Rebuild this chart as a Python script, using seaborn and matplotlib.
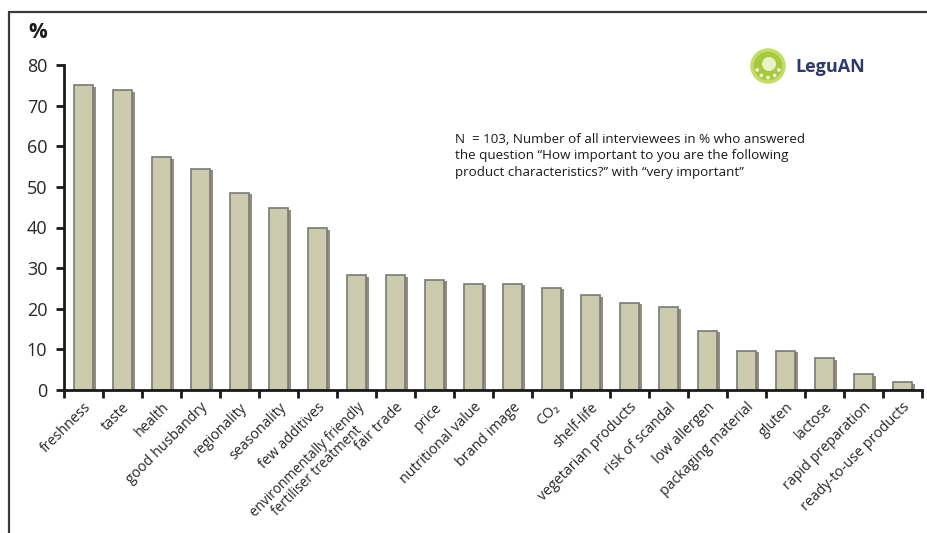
import numpy as np
import pandas as pd
import matplotlib
matplotlib.use("Agg")
import matplotlib.pyplot as plt
import matplotlib.patheffects as pe
from matplotlib.lines import Line2D
from matplotlib.patches import Circle
import seaborn as sns

# Share of respondents (N = 103) rating each characteristic "very important"
characteristics = [
    "freshness", "taste", "health", "good husbandry", "regionality",
    "seasonality", "few additives",
    "environmentally friendly\nfertiliser treatment", "fair trade", "price",
    "nutritional value", "brand image", "CO\u2082", "shelf-life",
    "vegetarian products", "risk of scandal", "low allergen",
    "packaging material", "gluten", "lactose", "rapid preparation",
    "ready-to-use products",
]
percent_very_important = [
    75.0, 73.8, 57.3, 54.4, 48.5, 44.7, 39.8, 28.2, 28.2, 27.2, 26.2,
    26.2, 25.2, 23.3, 21.4, 20.4, 14.6, 9.7, 9.7, 7.8, 3.9, 1.9,
]
y_ticks = [0, 10, 20, 30, 40, 50, 60, 70, 80]

note = ("N  = 103, Number of all interviewees in % who answered\n"
        "the question \u201cHow important to you are the following\n"
        "product characteristics?\u201d with \u201cvery important\u201d")

sns.set_style("ticks")
plt.rcParams["font.family"] = ["Open Sans", "DejaVu Sans"]

df = pd.DataFrame({"characteristic": characteristics,
                   "percent": percent_very_important})

W, H = 928, 533
fig = plt.figure(figsize=(W / 100, H / 100), dpi=100)
ax = fig.add_axes([64 / W, 1 - 390 / H, 858 / W, 325 / H])

sns.barplot(data=df, x="characteristic", y="percent", ax=ax,
            color="#CDCBAD", saturation=1, width=0.5,
            edgecolor="#767b76", linewidth=1.2)

for bar in ax.patches:
    bar.set_path_effects([
        pe.SimplePatchShadow(offset=(2, -1), shadow_rgbFace="#6b5a48",
                             alpha=0.7),
        pe.Normal(),
    ])

n = len(characteristics)
ax.set_xlim(-0.5, n - 0.5)
ax.set_ylim(0, 80)
ax.set_yticks(y_ticks)
ax.set_yticklabels([str(v) for v in y_ticks], fontsize=13)
ax.set_xlabel("")
ax.set_ylabel("")

# Category labels sit under each bar; tick marks fall between bars
ax.set_xticks(np.arange(n))
ax.set_xticklabels(characteristics, rotation=45, ha="right",
                   rotation_mode="anchor", fontsize=10.3,
                   multialignment="center", linespacing=1.0)
ax.tick_params(axis="x", which="major", length=0, pad=7)
ax.set_xticks(np.arange(-0.5, n, 1.0), minor=True)
ax.tick_params(axis="x", which="minor", length=6, width=2, color="#1a1a1a",
               direction="out")
ax.tick_params(axis="y", length=6, width=2, color="#1a1a1a", pad=6)

# the two-line label is the longest; keep it inside the figure
for lab in ax.get_xticklabels():
    if "\n" in lab.get_text():
        lab.set_fontsize(9.8)

for side in ("top", "right"):
    ax.spines[side].set_visible(False)
for side in ("left", "bottom"):
    ax.spines[side].set_linewidth(2)
    ax.spines[side].set_color("#1a1a1a")

# "%" unit above the value axis
fig.text(28 / W, 1 - 33 / H, "%", fontsize=15, fontweight="bold",
         ha="left", va="center", color="#1a1a1a")

# Survey note
fig.text(455 / W, 1 - 133 / H, note, fontsize=9.6, ha="left", va="top",
         linespacing=1.35, color="#1a1a1a")

# LeguAN logo: green disc with a ring of light dots, then the word mark
inch = fig.dpi_scale_trans
cx, cy = 7.68, (H - 66) / 100
fig.add_artist(Circle((cx, cy), 0.16, transform=inch, facecolor="#a7c93e",
                      edgecolor="#c3dc6a", linewidth=2.5))
fig.add_artist(Circle((cx + 0.01, cy + 0.02), 0.07, transform=inch,
                      facecolor="#e9f2c8", edgecolor="none"))
for ang in np.linspace(200, 340, 5):
    a = np.deg2rad(ang)
    fig.add_artist(Circle((cx + 0.115 * np.cos(a), cy + 0.115 * np.sin(a)),
                          0.018, transform=inch, facecolor="#f4f8e6",
                          edgecolor="none"))
fig.text(795 / W, 1 - 67 / H, "LeguAN", fontsize=13, fontweight="bold",
         color="#2c3b6b", ha="left", va="center")

# Outer frame (top and left edges)
frame_color = "#3a3a3a"
fig.add_artist(Line2D([9 / W, 1.0], [1 - 12 / H, 1 - 12 / H],
                      transform=fig.transFigure, color=frame_color, lw=1.6))
fig.add_artist(Line2D([9 / W, 9 / W], [0.0, 1 - 12 / H],
                      transform=fig.transFigure, color=frame_color, lw=1.6))

fig.savefig("out.png", dpi=100)
